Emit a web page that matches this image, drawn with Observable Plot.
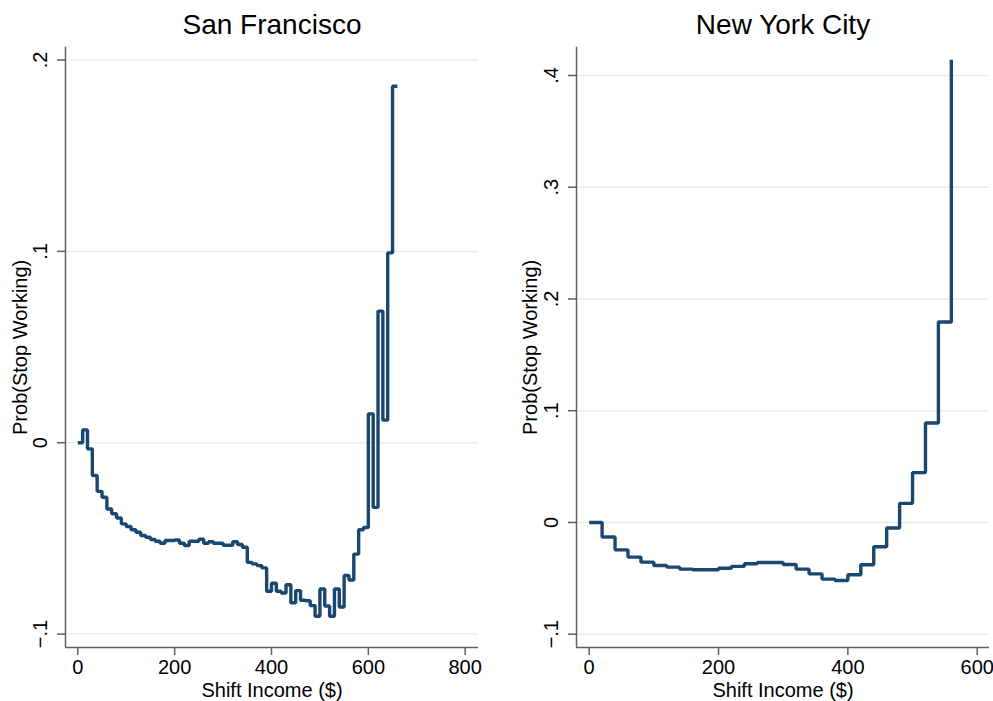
<!DOCTYPE html>
<html>
<head>
<meta charset="utf-8">
<script src="https://cdn.jsdelivr.net/npm/d3@7"></script>
<script src="https://cdn.jsdelivr.net/npm/@observablehq/plot@0.6"></script>
<style>
  html, body { margin: 0; padding: 0; background: #fff; }
  #wrap { position: relative; width: 993px; height: 701px; overflow: hidden; font-family: "Liberation Sans", Arial, sans-serif; }
  #left, #right { position: absolute; top: 0; }
  #left { left: 0; }
  #right { left: 496px; }
</style>
</head>
<body>
<div id="wrap"><div id="left"></div><div id="right"></div></div>
<script>
// ---- Data ----
const sfIncome = [0,10,20,30,40,50,60,70,80,90,100,110,120,130,140,150,160,170,180,190,200,210,220,230,240,250,260,270,280,290,300,310,320,330,340,350,360,370,380,390,400,410,420,430,440,450,460,470,480,490,500,510,520,530,540,550,560,570,580,590,600,610,620,630,640,650,660];
const sfProb = [0,0.0067,-0.0032,-0.0171,-0.0254,-0.0285,-0.0346,-0.0371,-0.0393,-0.0424,-0.0438,-0.0455,-0.0468,-0.0485,-0.0494,-0.0506,-0.0515,-0.0525,-0.0511,-0.0511,-0.0508,-0.0525,-0.0537,-0.0515,-0.0515,-0.0504,-0.0525,-0.0517,-0.0525,-0.0525,-0.0536,-0.0536,-0.0517,-0.0532,-0.0546,-0.0625,-0.0633,-0.0642,-0.0654,-0.0776,-0.0734,-0.0776,-0.0785,-0.0742,-0.0836,-0.0773,-0.0823,-0.0826,-0.0851,-0.0907,-0.0764,-0.0853,-0.0907,-0.0764,-0.0858,-0.0694,-0.0717,-0.0582,-0.0455,-0.0443,0.0151,-0.0338,0.0688,0.0118,0.0992,0.1863,0.1863];

const nycIncome = [0,20,40,60,80,100,120,140,160,180,200,220,240,260,280,300,320,340,360,380,400,420,440,460,480,500,520,540,560];
const nycProb = [0,-0.013,-0.0245,-0.031,-0.0355,-0.0385,-0.040,-0.0418,-0.0423,-0.0423,-0.041,-0.0393,-0.037,-0.0358,-0.0358,-0.0376,-0.0418,-0.046,-0.0507,-0.052,-0.0468,-0.0378,-0.0218,-0.0049,0.0171,0.0446,0.089,0.1794,0.414];

const sfXTicks = [0,200,400,600,800];
const sfYTicks = [-0.1,0,0.1,0.2];
const nycXTicks = [0,200,400,600];
const nycYTicks = [-0.1,0,0.1,0.2,0.3,0.4];

const titles = ["San Francisco","New York City"];
const xTitle = "Shift Income ($)";
const yTitle = "Prob(Stop Working)";

// ---- Styling ----
const FONT = "Liberation Sans, Arial, sans-serif";
const LINE = "#1a476f";
const AXIS = "#606060";
const GRID = "#e6edf0";

const yFmt = d => d === 0 ? "0" : d3.format(".1f")(d).replace("0.", ".");

function panel({income, prob, xTicks, yTicks, xDomain, yDomain, width, mLeft, mRight, title, yTitleDx}) {
  const rows = income.map((x, i) => ({x, y: prob[i]}));
  return Plot.plot({
    width, height: 701,
    marginLeft: mLeft, marginRight: mRight, marginTop: 46.7, marginBottom: 54,
    style: {fontFamily: FONT, color: "#000", background: "transparent", overflow: "visible"},
    x: {domain: xDomain},
    y: {domain: yDomain},
    marks: [
      Plot.gridY(yTicks, {stroke: GRID, strokeOpacity: 1, strokeWidth: 1.5}),
      Plot.ruleX([xDomain[0]], {stroke: AXIS, strokeWidth: 1.5}),
      Plot.ruleY([yDomain[0]], {stroke: AXIS, strokeWidth: 1.5}),
      Plot.axisX({ticks: xTicks, tickSize: 8, tickPadding: 4, tickFormat: "d", fontSize: 20, stroke: AXIS, strokeWidth: 1.5, label: null}),
      Plot.axisY({ticks: yTicks, tickSize: 8, tickFormat: () => "", stroke: AXIS, strokeWidth: 1.5, label: null}),
      Plot.text(yTicks, {y: d => d, text: yFmt, frameAnchor: "left", dx: -25, rotate: -90, fontSize: 20, textAnchor: "middle", lineAnchor: "middle"}),
      Plot.text([yTitle], {text: d => d, frameAnchor: "left", dx: yTitleDx, rotate: -90, fontSize: 20, textAnchor: "middle", lineAnchor: "middle"}),
      Plot.text([xTitle], {text: d => d, frameAnchor: "bottom", dy: 43, fontSize: 20, textAnchor: "middle", lineAnchor: "middle"}),
      Plot.text([title], {text: d => d, frameAnchor: "top", dy: -22, fontSize: 28, textAnchor: "middle", lineAnchor: "middle"}),
      Plot.line(rows, {x: "x", y: "y", curve: "step-after", stroke: LINE, strokeWidth: 3.4, strokeLinejoin: "miter", strokeLinecap: "butt"})
    ]
  });
}

document.getElementById("left").appendChild(panel({
  income: sfIncome, prob: sfProb, xTicks: sfXTicks, yTicks: sfYTicks,
  xDomain: [-25.4, 827.5], yDomain: [-0.107, 0.2067],
  width: 496, mLeft: 65, mRight: 18, title: titles[0], yTitleDx: -45
}));
document.getElementById("right").appendChild(panel({
  income: nycIncome, prob: nycProb, xTicks: nycXTicks, yTicks: nycYTicks,
  xDomain: [-19.6, 619], yDomain: [-0.1119, 0.4253],
  width: 497, mLeft: 80, mRight: 4, title: titles[1], yTitleDx: -46
}));
</script>
</body>
</html>
